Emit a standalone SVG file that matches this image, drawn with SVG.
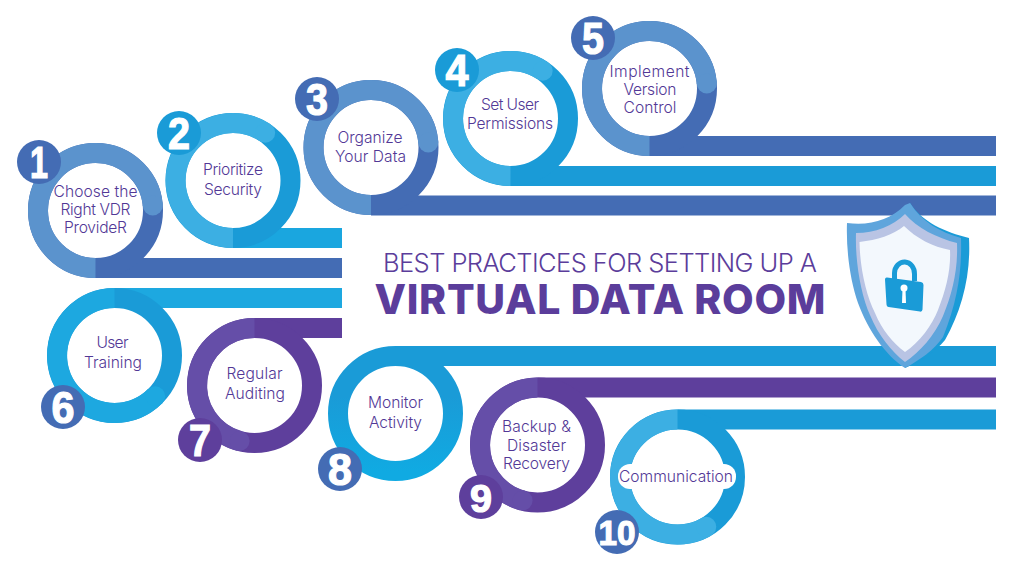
<svg xmlns="http://www.w3.org/2000/svg" width="1024" height="571" viewBox="0 0 1024 571">
<style>
.ring{fill:#fff;stroke-width:20}
.arc{fill:none;stroke-width:20}
.lbl{font-family:Inter,"Liberation Sans",sans-serif;font-weight:300;font-size:15.6px;fill:#523896;text-anchor:middle}
.num{font-family:"Liberation Sans",Arial,sans-serif;font-weight:700;font-size:44px;fill:#fff;stroke:#fff;stroke-width:1.2;text-anchor:middle}
.b1{fill:#446cb4}.b2{fill:#1a9bd7}.b3{fill:#5e3f9c}
.s1{stroke:#446cb4}.s2{stroke:#1a9bd7}.s3{stroke:#5e3f9c}
.l1{stroke:#5b93cd}.l2{stroke:#3cafe3}.l3{stroke:#1da8e0}.l4{stroke:#654ea8}
.c1{fill:#5b93cd}.c2{fill:#3cafe3}.c3{fill:#1da8e0}.c4{fill:#654ea8}
</style>
<defs>
<linearGradient id="g8" x1="0" y1="0" x2="0" y2="1"><stop offset="0.35" stop-color="#1a9bd7"/><stop offset="1" stop-color="#10aae2"/></linearGradient>
</defs>
<rect width="1024" height="571" fill="#fff"/>
<g id="connectors">
<rect x="95.5" y="258" width="246.500" height="20" class="b1"/>
<rect x="233" y="228" width="109" height="20" fill="#1aa6df"/>
<rect x="371" y="195.500" width="625" height="20" class="b1"/>
<rect x="510.500" y="166" width="485.500" height="20" class="b2"/>
<rect x="649.500" y="136" width="346.500" height="20" class="b1"/>
<rect x="114.500" y="288" width="227.500" height="20" class="c3"/>
<rect x="254.500" y="318" width="87.500" height="20" class="b3"/>
<rect x="395.500" y="346" width="600.500" height="20" class="b2"/>
<rect x="537.500" y="377.500" width="458.500" height="20" class="b3"/>
<rect x="677.500" y="409.500" width="318.500" height="20" class="b2"/>
</g>
<g id="node-1">
<circle cx="95.500" cy="210.500" r="57.500" class="ring s1"/>
<path d="M95.500 268A57.500 57.500 0 1 1 152.800 205.500" class="arc l1"/><circle cx="152.800" cy="205.500" r="10" class="c1"/>
<circle cx="39" cy="162" r="22" class="b1"/><text x="39" y="178" class="num" textLength="18" lengthAdjust="spacingAndGlyphs">1</text>
<text class="lbl" x="95.500" y="197" textLength="84">Choose the</text>
<text class="lbl" x="95.500" y="215" textLength="70">Right VDR</text>
<text class="lbl" x="95.500" y="233" textLength="63">ProvideR</text>
</g>
<g id="node-2">
<circle cx="233" cy="180.500" r="57.500" class="ring s2"/>
<path d="M233 238A57.500 57.500 0 1 1 265.200 132.800" class="arc l2"/><circle cx="265.200" cy="132.800" r="10" class="c2"/>
<circle cx="179" cy="133" r="22" class="b2"/><text x="179" y="149" class="num" textLength="22" lengthAdjust="spacingAndGlyphs">2</text>
<text class="lbl" x="233" y="175" textLength="60">Prioritize</text>
<text class="lbl" x="233" y="195" textLength="58">Security</text>
</g>
<g id="node-3">
<circle cx="371" cy="147.500" r="57.500" class="ring s1"/>
<path d="M371 205A57.500 57.500 0 1 1 428.300 142.500" class="arc l1"/><circle cx="428.300" cy="142.500" r="10" class="c1"/>
<circle cx="317" cy="99" r="22" class="b1"/><text x="317" y="115" class="num" textLength="22" lengthAdjust="spacingAndGlyphs">3</text>
<text class="lbl" x="370" y="143" textLength="65">Organize</text>
<text class="lbl" x="370.500" y="162" textLength="71">Your Data</text>
</g>
<g id="node-4">
<circle cx="510.500" cy="118.500" r="57.500" class="ring s2"/>
<path d="M510.500 176A57.500 57.500 0 1 1 542.700 70.800" class="arc l2"/><circle cx="542.700" cy="70.800" r="10" class="c2"/>
<circle cx="457" cy="70" r="22" class="b2"/><text x="457" y="86" class="num" textLength="23" lengthAdjust="spacingAndGlyphs">4</text>
<text class="lbl" x="510" y="110" textLength="58">Set User</text>
<text class="lbl" x="510" y="129" textLength="86">Permissions</text>
</g>
<g id="node-5">
<circle cx="649.500" cy="88.500" r="57.500" class="ring s1"/>
<path d="M649.500 146A57.500 57.500 0 1 1 706.800 83.500" class="arc l1"/><circle cx="706.800" cy="83.500" r="10" class="c1"/>
<circle cx="593" cy="38" r="22" class="b1"/><text x="593" y="54" class="num" textLength="22" lengthAdjust="spacingAndGlyphs">5</text>
<text class="lbl" x="649.500" y="77" textLength="80">Implement</text>
<text class="lbl" x="650" y="95" textLength="53">Version</text>
<text class="lbl" x="650" y="113" textLength="53">Control</text>
</g>
<g id="node-6">
<circle cx="114.500" cy="355.500" r="57.500" class="ring s2"/>
<path d="M114.500 298A57.500 57.500 0 1 0 155.200 396.200" class="arc l3"/><circle cx="155.200" cy="396.200" r="10" class="c3"/>
<circle cx="63" cy="407" r="22" class="b1"/><text x="63" y="423" class="num" textLength="23" lengthAdjust="spacingAndGlyphs">6</text>
<text class="lbl" x="112.500" y="348" textLength="32">User</text>
<text class="lbl" x="113" y="368" textLength="58">Training</text>
</g>
<g id="node-7">
<circle cx="254.500" cy="385.500" r="57.500" class="ring s3"/>
<path d="M254.500 328A57.500 57.500 0 0 0 239.600 441" class="arc l4"/><circle cx="239.600" cy="441" r="10" class="c4"/>
<circle cx="200" cy="440" r="22" class="b3"/><text x="200" y="456" class="num" textLength="22" lengthAdjust="spacingAndGlyphs">7</text>
<text class="lbl" x="254.500" y="379" textLength="56">Regular</text>
<text class="lbl" x="255" y="399" textLength="60">Auditing</text>
</g>
<g id="node-8">
<circle cx="395.500" cy="413.500" r="57.500" class="ring" stroke="url(#g8)"/>
<circle cx="340" cy="469" r="22" class="b1"/><text x="340" y="485" class="num" textLength="24" lengthAdjust="spacingAndGlyphs">8</text>
<text class="lbl" x="395.500" y="408" textLength="55">Monitor</text>
<text class="lbl" x="395.500" y="428" textLength="53">Activity</text>
</g>
<g id="node-9">
<circle cx="537.500" cy="445" r="57.500" class="ring s3"/>
<path d="M537.500 387.500A57.500 57.500 0 0 0 522.600 500.500" class="arc l4"/><circle cx="522.600" cy="500.500" r="10" class="c4"/>
<circle cx="481" cy="497" r="22" class="b3"/><text x="481" y="512" class="num" style="font-size:38px" textLength="22" lengthAdjust="spacingAndGlyphs">9</text>
<text class="lbl" x="536.500" y="432" textLength="69">Backup &amp;</text>
<text class="lbl" x="536.500" y="451" textLength="59">Disaster</text>
<text class="lbl" x="536.500" y="469" textLength="67">Recovery</text>
</g>
<g id="node-10">
<circle cx="677.500" cy="477" r="57.500" class="ring s2"/>
<path d="M677.500 419.500A57.500 57.500 0 1 0 706.250 526.800" class="arc l2"/><circle cx="706.250" cy="526.800" r="10" class="c2"/>
<rect x="618" y="464" width="118" height="25" rx="12" fill="#fff"/>
<circle cx="617" cy="532" r="22" class="b1"/><text x="617" y="545" class="num" style="font-size:35px" textLength="37" lengthAdjust="spacingAndGlyphs">10</text>
<text class="lbl" x="676" y="482" textLength="114">Communication</text>
</g>
<g id="title">
<text x="600" y="271.500" text-anchor="middle" font-family="Inter,'Liberation Sans',sans-serif" font-weight="300" font-size="25.500" fill="#5b3d9b" textLength="434">BEST PRACTICES FOR SETTING UP A</text>
<text x="600" y="314" text-anchor="middle" font-family="Inter,'Liberation Sans',sans-serif" font-weight="800" font-size="41" fill="#5b3d9b" textLength="451">VIRTUAL DATA ROOM</text>
</g>
<g id="shield">
<path d="M910 203C922 222 945 232 969 238C971 275 962 310 945 340C935 352 920 362 905 368Z" fill="#1a9bd7"/>
<path d="M910 203C922 222 940 232 961 238C962 270 958 300 943 337C934 350 920 360 905 368C885 355 868 330 858 303C850 280 846 250 847 223C870 226 890 220 905 205Z" fill="#5fa5dc"/>
<path d="M905 214C893 226 875 233 856 233C855 262 861 295 870 315C878 335 892 352 905 362C920 352 935 335 943 316C953 292 958 268 957 243C937 238 917 228 905 214Z" fill="#b9c4e4"/>
<path d="M904 226C893 235 877 240 859.500 242C860 268 866 295 875 313C882 330 893 343 905 352C920 342 932 325 938 310C946 290 951 270 950 250C933 247 916 238 904 226Z" fill="#f3f8fd"/>
<path d="M894.500 279V273A10 11.500 0 0 1 914.500 274V281" fill="none" stroke="#1a9bd7" stroke-width="5"/>
<path d="M887 277.500L921 282Q923.500 282.500 923.500 285L922.500 309.500Q922.300 312 920 311.600L888.500 307Q886.500 306.500 886.500 304.500L885 279.500Q885 277.300 887 277.500Z" fill="#1a9bd7"/>
<circle cx="904" cy="288" r="3.500" fill="#fff"/><path d="M902.500 289H905.500L906 303H902Z" fill="#fff"/>
</g>
</svg>
